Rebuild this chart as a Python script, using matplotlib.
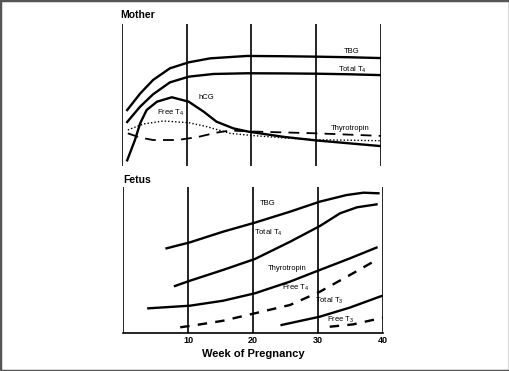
import matplotlib
matplotlib.use("Agg")
import matplotlib.pyplot as plt
from matplotlib.patches import Rectangle

plt.rcParams['font.family'] = ['Liberation Sans', 'DejaVu Sans']
plt.rcParams['mathtext.default'] = 'regular'

# --- Mother panel (arbitrary units 0-100) ---
m_tbg_w = [0.8, 2.8, 4.8, 7.4, 10.3, 13.6, 19.3, 25, 30, 35, 40]
m_tbg_v = [39.4, 51, 60.6, 68.8, 73, 75.8, 77.5, 77.3, 77, 76.6, 76]
m_tt4_w = [0.8, 2.8, 4.8, 7.4, 10.3, 14.1, 19.3, 25, 30, 35, 40]
m_tt4_v = [31, 41.8, 50.5, 58.9, 62.9, 64.8, 65.3, 65.2, 65, 64.6, 64]
m_hcg_w = [0.8, 2, 2.8, 3.8, 5.4, 7.7, 10.3, 12.6, 14.6, 17.2, 19.5, 25, 30, 40]
m_hcg_v = [4, 18.3, 30, 39.4, 45.3, 48.4, 45.3, 38.3, 31.2, 26.5, 24.2, 20.5, 18, 14]
m_ft4_w = [0.9, 3.3, 6.4, 10.3, 13.1, 16.7, 20, 25, 30, 40]
m_ft4_v = [25.4, 29.6, 31.7, 30.5, 27.7, 23, 21.5, 19.8, 18.5, 17.8]
m_tsh_w = [0.9, 2.8, 4.8, 8.5, 11.5, 14.6, 16.7, 20, 30, 40]
m_tsh_v = [23, 20, 18.3, 18.3, 20.2, 23.5, 25, 24.3, 23, 21.2]

# --- Fetus panel ---
f_tbg_w = [6.7, 10.3, 15.4, 20.3, 25.7, 30.3, 34.4, 37, 39.3]
f_tbg_v = [58, 62.1, 69.4, 75.6, 83.1, 90, 94.5, 96.1, 95.7]
f_tt4_w = [8, 10.3, 15.4, 20.3, 25.7, 30.3, 33.4, 36, 39]
f_tt4_v = [32.2, 35.8, 43.2, 50.7, 62.5, 73.3, 82, 86.1, 88.1]
f_tsh_w = [3.9, 10.3, 15.4, 20.3, 25.7, 30.3, 34.9, 39]
f_tsh_v = [16.9, 18.7, 22.1, 27.2, 35.2, 43.2, 51.1, 58.5]
f_ft4_w = [8.8, 11.3, 15.4, 20.3, 25.7, 30.3, 34.9, 38.5]
f_ft4_v = [3.9, 5.5, 8.4, 13.5, 19.2, 28.3, 39.7, 48.8]
f_tt3_w = [24.4, 30.3, 34.9, 39.5, 40]
f_tt3_v = [5.5, 11.2, 17.4, 24.9, 25.6]
f_ft3_w = [31.8, 35.4, 39.5, 40]
f_ft3_v = [4.3, 5.9, 10, 10.5]

weeks_grid = [0, 10, 20, 30, 40]
tick_weeks = [10, 20, 30, 40]

W, H = 510, 371
fig = plt.figure(figsize=(W / 100, H / 100), dpi=100)

def px_axes(x0, y0, x1, y1):
    return fig.add_axes([x0 / W, (H - y1) / H, (x1 - x0) / W, (y1 - y0) / H])

ax1 = px_axes(122, 24, 381, 166)
ax2 = px_axes(123, 187, 383, 333)

lw = 1.7
for ax in (ax1, ax2):
    ax.set_xlim(0, 40)
    ax.set_ylim(0, 100)
    for s in ax.spines.values():
        s.set_visible(False)
    for w in weeks_grid:
        ax.axvline(w, color='black', lw=1.2, zorder=1)
    ax.set_yticks([])

ax1.set_xticks([])
ax1.plot(m_tbg_w, m_tbg_v, color='black', lw=lw)
ax1.plot(m_tt4_w, m_tt4_v, color='black', lw=lw)
ax1.plot(m_hcg_w, m_hcg_v, color='black', lw=lw)
ax1.plot(m_ft4_w, m_ft4_v, color='black', lw=1.0, ls=(0, (1, 1.5)))
ax1.plot(m_tsh_w, m_tsh_v, color='black', lw=1.3, ls=(0, (6, 4)))

fs = 5.5
ax1.text(35.5, 80.5, 'TBG', fontsize=fs, ha='center', va='center')
ax1.text(35.5, 67.5, 'Total T$_4$', fontsize=fs, ha='center', va='center')
ax1.text(13, 48, 'hCG', fontsize=fs, ha='center', va='center')
ax1.text(7.5, 37.5, 'Free T$_4$', fontsize=fs, ha='center', va='center')
ax1.text(35.2, 26.5, 'Thyrotropin', fontsize=fs, ha='center', va='center')

ax2.spines['bottom'].set_visible(True)
ax2.spines['bottom'].set_linewidth(1.2)
ax2.plot(f_tbg_w, f_tbg_v, color='black', lw=lw)
ax2.plot(f_tt4_w, f_tt4_v, color='black', lw=lw)
ax2.plot(f_tsh_w, f_tsh_v, color='black', lw=lw)
ax2.plot(f_ft4_w, f_ft4_v, color='black', lw=lw, ls=(0, (4, 3.5)))
ax2.plot(f_tt3_w, f_tt3_v, color='black', lw=lw)
ax2.plot(f_ft3_w, f_ft3_v, color='black', lw=lw, ls=(0, (4, 3.5)))

ax2.text(22.2, 89, 'TBG', fontsize=fs, ha='center', va='center')
ax2.text(22.3, 68.5, 'Total T$_4$', fontsize=fs, ha='center', va='center')
ax2.text(25.2, 44, 'Thyrotropin', fontsize=fs, ha='center', va='center')
ax2.text(26.6, 31, 'Free T$_4$', fontsize=fs, ha='center', va='center')
ax2.text(31.8, 22, 'Total T$_3$', fontsize=fs, ha='center', va='center')
ax2.text(33.5, 9, 'Free T$_3$', fontsize=fs, ha='center', va='center')

ax2.set_xticks(tick_weeks)
ax2.set_xticklabels([str(t) for t in tick_weeks], fontsize=6.5, fontweight='bold')
ax2.tick_params(axis='x', length=0, pad=2)
ax2.set_xlabel('Week of Pregnancy', fontsize=8, fontweight='bold', labelpad=3)

fig.text(120 / W, 1 - 15 / H, 'Mother', fontsize=7.5, fontweight='bold', va='center', ha='left')
fig.text(123 / W, 1 - 180 / H, 'Fetus', fontsize=7.5, fontweight='bold', va='center', ha='left')

fig.patches.append(Rectangle((0, 0), 1, 1, transform=fig.transFigure,
                             fill=False, edgecolor='#555555', lw=2.5))

fig.savefig('out.png', dpi=100)
